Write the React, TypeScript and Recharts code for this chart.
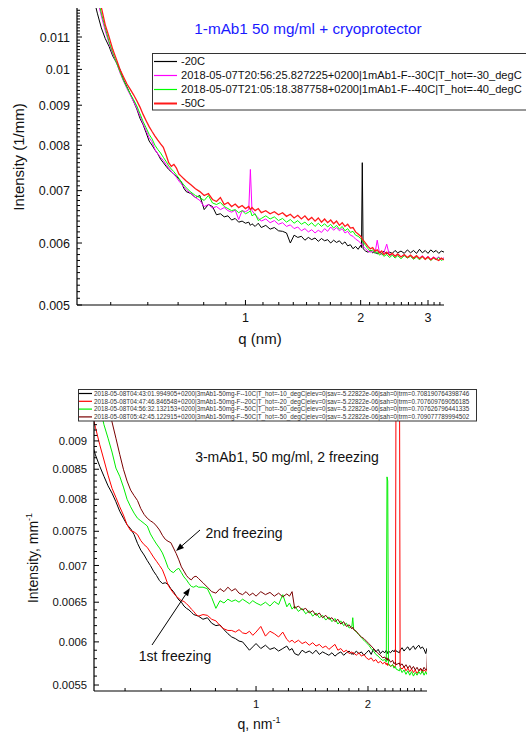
import React from 'react';
import { LineChart, Line, XAxis, YAxis } from 'recharts';

const FONT = '"Liberation Sans", Arial, Helvetica, sans-serif';

// ---------------- TOP CHART DATA ----------------
const qTop = [
  0.38, 0.39, 0.40, 0.41, 0.42, 0.43, 0.44, 0.45, 0.46, 0.47,
  0.48, 0.49, 0.50, 0.51, 0.52, 0.53, 0.54, 0.55, 0.56, 0.57,
  0.58, 0.59, 0.60, 0.61, 0.62, 0.63, 0.64, 0.65, 0.66, 0.67,
  0.68, 0.69, 0.70, 0.72, 0.74, 0.76, 0.78, 0.80, 0.82, 0.84,
  0.86, 0.88, 0.90, 0.92, 0.94, 0.96, 0.98, 1.00, 1.02, 1.03,
  1.04, 1.06, 1.08, 1.10, 1.13, 1.16, 1.19, 1.22, 1.25, 1.28,
  1.31, 1.34, 1.37, 1.40, 1.43, 1.46, 1.49, 1.52, 1.55, 1.58,
  1.61, 1.64, 1.67, 1.70, 1.73, 1.76, 1.79, 1.82, 1.85, 1.88,
  1.91, 1.94, 1.97, 2.00, 2.01, 2.02, 2.03, 2.06, 2.09, 2.12,
  2.15, 2.18, 2.21, 2.24, 2.27, 2.30, 2.34, 2.38, 2.42, 2.46,
  2.50, 2.55, 2.60, 2.65, 2.70, 2.75, 2.80, 2.85, 2.90, 2.95,
  3.00, 3.05, 3.10, 3.15, 3.20, 3.25, 3.31,
];

const blackTop = [
  0.0138, 0.0131, 0.0124, 0.0118, 0.0113, 0.01095, 0.0107, 0.0104, 0.0102, 0.0100,
  0.0097, 0.0095, 0.0093, 0.0091, 0.0089, 0.00866, 0.0085, 0.0083, 0.0081, 0.0080,
  0.00789, 0.00780, 0.00768, 0.00760, 0.00752, 0.00745, 0.00740, 0.00735, 0.00730, 0.00724,
  0.00718, 0.00705, 0.00698, 0.00694, 0.00686, 0.00690, 0.00662, 0.00672, 0.00668, 0.00652,
  0.00654, 0.00648, 0.00650, 0.00642, 0.00645, 0.00638, 0.00640, 0.00636, 0.00638, 0.00632,
  0.00635, 0.00630, 0.00636, 0.00628, 0.00632, 0.00625, 0.00628, 0.00622, 0.00621, 0.00618,
  0.00600, 0.00614, 0.00610, 0.00612, 0.00605, 0.00610, 0.00606, 0.00609, 0.00603, 0.00608,
  0.00604, 0.00606, 0.00600, 0.00605, 0.00601, 0.00604, 0.00598, 0.00602, 0.00595, 0.00597,
  0.00590, 0.00594, 0.00589, 0.00596, 0.00592, 0.00760, 0.00590, 0.00586, 0.00584, 0.00587,
  0.00583, 0.00585, 0.00581, 0.00584, 0.00582, 0.00586, 0.00581, 0.00584, 0.00582, 0.00587,
  0.00583, 0.00586, 0.00582, 0.00588, 0.00583, 0.00587, 0.00582, 0.00589, 0.00583, 0.00587,
  0.00582, 0.00588, 0.00584, 0.00587, 0.00582, 0.00586, 0.00584,
];

const magentaTop = [
  0.0144, 0.0136, 0.0129, 0.0123, 0.0117, 0.0112, 0.0108, 0.01045, 0.0102, 0.00990,
  0.00966, 0.00945, 0.00927, 0.00910, 0.00892, 0.00872, 0.00852, 0.00835, 0.00818, 0.00808,
  0.00790, 0.00780, 0.00772, 0.00765, 0.00756, 0.00748, 0.00741, 0.00735, 0.00728, 0.00720,
  0.00714, 0.00708, 0.00702, 0.00694, 0.00686, 0.00680, 0.00668, 0.00672, 0.00665, 0.00668,
  0.00662, 0.00666, 0.00660, 0.00657, 0.00661, 0.00643, 0.00660, 0.00658, 0.00662, 0.00745,
  0.00660, 0.00652, 0.00646, 0.00640, 0.00644, 0.00637, 0.00641, 0.00634, 0.00637, 0.00630,
  0.00633, 0.00626, 0.00629, 0.00622, 0.00626, 0.00620, 0.00624, 0.00618, 0.00623, 0.00619,
  0.00626, 0.00621, 0.00629, 0.00623, 0.00628, 0.00622, 0.00626, 0.00618, 0.00621, 0.00614,
  0.00612, 0.00607, 0.00604, 0.00600, 0.00598, 0.00596, 0.00594, 0.00590, 0.00586, 0.00584,
  0.00586, 0.00582, 0.00605, 0.00583, 0.00580, 0.00583, 0.00598, 0.00578, 0.00581, 0.00577,
  0.00580, 0.00576, 0.00579, 0.00575, 0.00578, 0.00573, 0.00577, 0.00574, 0.00578, 0.00573,
  0.00577, 0.00572, 0.00576, 0.00573, 0.00576, 0.00572, 0.00575,
];

const greenTop = [
  0.0146, 0.0138, 0.0131, 0.0124, 0.0118, 0.0113, 0.01085, 0.0105, 0.0102, 0.00993,
  0.00968, 0.00948, 0.00930, 0.00915, 0.00898, 0.00878, 0.00858, 0.00842, 0.00826, 0.00815,
  0.00800, 0.00790, 0.00782, 0.00772, 0.00763, 0.00753, 0.00746, 0.00740, 0.00733, 0.00726,
  0.00718, 0.00712, 0.00706, 0.00697, 0.00690, 0.00686, 0.00680, 0.00690, 0.00675, 0.00672,
  0.00676, 0.00668, 0.00664, 0.00660, 0.00662, 0.00656, 0.00660, 0.00654, 0.00657, 0.00660,
  0.00650, 0.00654, 0.00641, 0.00645, 0.00650, 0.00644, 0.00648, 0.00641, 0.00645, 0.00638,
  0.00643, 0.00636, 0.00641, 0.00634, 0.00638, 0.00632, 0.00637, 0.00630, 0.00636, 0.00630,
  0.00635, 0.00629, 0.00634, 0.00627, 0.00632, 0.00625, 0.00630, 0.00622, 0.00626, 0.00619,
  0.00621, 0.00614, 0.00612, 0.00608, 0.00606, 0.00604, 0.00602, 0.00596, 0.00590, 0.00586,
  0.00588, 0.00582, 0.00585, 0.00579, 0.00582, 0.00577, 0.00580, 0.00575, 0.00579, 0.00574,
  0.00578, 0.00573, 0.00578, 0.00574, 0.00577, 0.00572, 0.00576, 0.00571, 0.00576, 0.00572,
  0.00575, 0.00570, 0.00574, 0.00571, 0.00575, 0.00570, 0.00573,
];

const redTop = [
  0.0150, 0.0142, 0.0134, 0.0127, 0.0120, 0.0114, 0.0110, 0.0106, 0.0103, 0.0100,
  0.00978, 0.00958, 0.00943, 0.00928, 0.00912, 0.00895, 0.00876, 0.00860, 0.00845, 0.00833,
  0.00822, 0.00812, 0.00803, 0.00795, 0.00778, 0.00760, 0.00752, 0.00756, 0.00748, 0.00735,
  0.00730, 0.00725, 0.00720, 0.00712, 0.00704, 0.00698, 0.00690, 0.00694, 0.00682, 0.00678,
  0.00686, 0.00672, 0.00676, 0.00668, 0.00673, 0.00666, 0.00670, 0.00664, 0.00668, 0.00662,
  0.00666, 0.00660, 0.00664, 0.00656, 0.00660, 0.00654, 0.00658, 0.00652, 0.00656, 0.00649,
  0.00653, 0.00646, 0.00651, 0.00644, 0.00650, 0.00642, 0.00647, 0.00640, 0.00646, 0.00638,
  0.00644, 0.00637, 0.00642, 0.00635, 0.00640, 0.00632, 0.00637, 0.00630, 0.00634, 0.00627,
  0.00628, 0.00620, 0.00616, 0.00612, 0.00610, 0.00607, 0.00605, 0.00600, 0.00594, 0.00590,
  0.00592, 0.00586, 0.00588, 0.00583, 0.00586, 0.00580, 0.00584, 0.00579, 0.00582, 0.00577,
  0.00581, 0.00576, 0.00580, 0.00575, 0.00579, 0.00574, 0.00578, 0.00573, 0.00577, 0.00572,
  0.00576, 0.00571, 0.00575, 0.00572, 0.00570, 0.00574, 0.00571,
];

const topNames = [
  '-20C',
  '2018-05-07T20:56:25.827225+0200|1mAb1-F--30C|T_hot=-30_degC',
  '2018-05-07T21:05:18.387758+0200|1mAb1-F--40C|T_hot=-40_degC',
  '-50C',
];
const topColors = ['#000000', '#ff00ff', '#00ff00', '#ff1a1a'];
const topSeries = [blackTop, magentaTop, greenTop, redTop];
const topYMajor = [0.005, 0.006, 0.007, 0.008, 0.009, 0.01, 0.011];
const topXMajor = [1, 2, 3];

// ---------------- BOTTOM CHART DATA ----------------
const qBot = [
  0.36, 0.37, 0.38, 0.39, 0.40, 0.41, 0.42, 0.43, 0.44, 0.45,
  0.46, 0.47, 0.48, 0.49, 0.50, 0.51, 0.52, 0.53, 0.54, 0.55,
  0.56, 0.57, 0.58, 0.59, 0.60, 0.61, 0.62, 0.63, 0.64, 0.65,
  0.66, 0.67, 0.68, 0.69, 0.70, 0.72, 0.74, 0.76, 0.78, 0.80,
  0.82, 0.84, 0.86, 0.88, 0.90, 0.92, 0.94, 0.96, 0.98, 1.00,
  1.03, 1.06, 1.09, 1.12, 1.15, 1.18, 1.21, 1.23, 1.25, 1.27,
  1.30, 1.33, 1.36, 1.39, 1.42, 1.45, 1.48, 1.51, 1.54, 1.57,
  1.60, 1.63, 1.66, 1.69, 1.72, 1.75, 1.78, 1.81, 1.82, 1.83,
  1.86, 1.89, 1.92, 1.95, 1.98, 2.01, 2.04, 2.07, 2.10, 2.13,
  2.16, 2.19, 2.22, 2.24, 2.25, 2.26, 2.27, 2.30, 2.33, 2.35,
  2.37, 2.38, 2.43, 2.44, 2.47, 2.50, 2.53, 2.56, 2.59, 2.62,
  2.65, 2.68, 2.71, 2.74, 2.77, 2.80, 2.83, 2.86, 2.88, 2.90,
];

const blackBot = [
  0.0090, 0.00875, 0.00855, 0.00838, 0.00822, 0.00810, 0.00796, 0.00781, 0.00770, 0.00760,
  0.00754, 0.00745, 0.00732, 0.00722, 0.00715, 0.00707, 0.00700, 0.00692, 0.00686, 0.00679,
  0.00675, 0.00676, 0.00674, 0.00668, 0.00664, 0.00658, 0.00653, 0.00650, 0.00645, 0.00642,
  0.00640, 0.00637, 0.00634, 0.00633, 0.00632, 0.00628, 0.00630, 0.00623, 0.00620, 0.00621,
  0.00615, 0.00610, 0.00606, 0.00604, 0.00601, 0.00600, 0.00595, 0.00590, 0.00594, 0.00598,
  0.00592, 0.00596, 0.00591, 0.00593, 0.00589, 0.00592, 0.00595, 0.00590, 0.00592, 0.00586,
  0.00584, 0.00590, 0.00587, 0.00589, 0.00586, 0.00590, 0.00585, 0.00588, 0.00586, 0.00584,
  0.00587, 0.00583, 0.00586, 0.00588, 0.00584, 0.00587, 0.00589, 0.00585, 0.00587, 0.00585,
  0.00589, 0.00586, 0.00588, 0.00584, 0.00587, 0.00590, 0.00585, 0.00592, 0.00588, 0.00591,
  0.00586, 0.00589, 0.00587, 0.00590, 0.00588, 0.00586, 0.00589, 0.00587, 0.00590, 0.00588,
  0.00591, 0.00589, 0.00587, 0.00590, 0.00593, 0.00589, 0.00592, 0.00594, 0.00590, 0.00593,
  0.00595, 0.00591, 0.00594, 0.00596, 0.00592, 0.00594, 0.00591, 0.00586, 0.00592, 0.00590,
];

const redBot = [
  0.00960, 0.00925, 0.00893, 0.00866, 0.00840, 0.00818, 0.00803, 0.00788, 0.00775, 0.00760,
  0.00751, 0.00749, 0.00745, 0.00736, 0.00730, 0.00726, 0.00719, 0.00712, 0.00706, 0.00700,
  0.00694, 0.00684, 0.00673, 0.00667, 0.00662, 0.00658, 0.00655, 0.00652, 0.00651, 0.00648,
  0.00645, 0.00641, 0.00638, 0.00634, 0.00632, 0.00634, 0.00633, 0.00628, 0.00626, 0.00620,
  0.00616, 0.00614, 0.00614, 0.00612, 0.00615, 0.00611, 0.00610, 0.00613, 0.00608, 0.00612,
  0.00619, 0.00607, 0.00613, 0.00610, 0.00606, 0.00612, 0.00603, 0.00600, 0.00602, 0.00599,
  0.00602, 0.00598, 0.00600, 0.00596, 0.00599, 0.00595, 0.00597, 0.00593, 0.00595, 0.00591,
  0.00594, 0.00597, 0.00590, 0.00592, 0.00588, 0.00590, 0.00586, 0.00588, 0.00586, 0.00587,
  0.00584, 0.00587, 0.00583, 0.00585, 0.00581, 0.00579, 0.00581, 0.00577, 0.00579, 0.00575,
  0.00577, 0.00574, 0.00576, 0.00573, 0.00575, 0.00572, 0.00574, 0.00571, 0.00573, 0.00570,
  0.00572, 0.0112, 0.0112, 0.00570, 0.00568, 0.00571, 0.00566, 0.00569, 0.00565, 0.00568,
  0.00564, 0.00567, 0.00563, 0.00566, 0.00568, 0.00564, 0.00567, 0.00565, 0.00568, 0.00566,
];

const greenBot = [
  0.0108, 0.0102, 0.00965, 0.00930, 0.00905, 0.00880, 0.00852, 0.00838, 0.00820, 0.00800,
  0.00788, 0.00778, 0.00770, 0.00766, 0.00762, 0.00758, 0.00746, 0.00738, 0.00731, 0.00725,
  0.00718, 0.00708, 0.00697, 0.00692, 0.00690, 0.00694, 0.00696, 0.00690, 0.00684, 0.00680,
  0.00675, 0.00671, 0.00670, 0.00672, 0.00670, 0.00670, 0.00668, 0.00656, 0.00642, 0.00652,
  0.00649, 0.00654, 0.00651, 0.00653, 0.00650, 0.00654, 0.00651, 0.00648, 0.00652, 0.00649,
  0.00646, 0.00650, 0.00645, 0.00651, 0.00647, 0.00660, 0.00644, 0.00649, 0.00641, 0.00645,
  0.00638, 0.00642, 0.00635, 0.00639, 0.00632, 0.00636, 0.00630, 0.00633, 0.00627, 0.00631,
  0.00625, 0.00629, 0.00622, 0.00626, 0.00620, 0.00623, 0.00617, 0.00619, 0.00630, 0.00616,
  0.00612, 0.00609, 0.00605, 0.00602, 0.00599, 0.00596, 0.00592, 0.00589, 0.00585, 0.00583,
  0.00580, 0.00578, 0.00579, 0.00576, 0.00837, 0.00830, 0.00574, 0.00571, 0.00573, 0.00569,
  0.00571, 0.00568, 0.00566, 0.00569, 0.00564, 0.00567, 0.00562, 0.00566, 0.00561, 0.00565,
  0.00560, 0.00564, 0.00561, 0.00565, 0.00562, 0.00566, 0.00561, 0.00565, 0.00562, 0.00564,
];

const darkRedBot = [
  0.0125, 0.0117, 0.0110, 0.0103, 0.00975, 0.00935, 0.00905, 0.00876, 0.00850, 0.00830,
  0.00815, 0.00806, 0.00798, 0.00785, 0.00776, 0.00770, 0.00766, 0.00763, 0.00758, 0.00752,
  0.00744, 0.00738, 0.00735, 0.00733, 0.00725, 0.00717, 0.00708, 0.00698, 0.00692, 0.00686,
  0.00682, 0.00680, 0.00684, 0.00685, 0.00682, 0.00676, 0.00670, 0.00664, 0.00662, 0.00668,
  0.00664, 0.00670, 0.00665, 0.00668, 0.00662, 0.00660, 0.00664, 0.00659, 0.00662, 0.00658,
  0.00664, 0.00660, 0.00663, 0.00658, 0.00662, 0.00657, 0.00661, 0.00658, 0.00664, 0.00642,
  0.00645, 0.00640, 0.00642, 0.00636, 0.00639, 0.00633, 0.00636, 0.00630, 0.00633, 0.00628,
  0.00630, 0.00625, 0.00628, 0.00622, 0.00625, 0.00619, 0.00621, 0.00616, 0.00618, 0.00615,
  0.00613, 0.00609, 0.00606, 0.00604, 0.00601, 0.00598, 0.00595, 0.00592, 0.00589, 0.00586,
  0.00584, 0.00581, 0.00582, 0.00579, 0.00581, 0.00578, 0.00580, 0.00576, 0.00578, 0.00574,
  0.00576, 0.00573, 0.00575, 0.00572, 0.00574, 0.00570, 0.00573, 0.00569, 0.00572, 0.00568,
  0.00571, 0.00567, 0.00570, 0.00566, 0.00569, 0.00566, 0.00570, 0.00567, 0.00568, 0.00605,
];

const botNames = [
  '2018-05-08T04:43:01.994905+0200|3mAb1-50mg-F--10C|T_hot=-10_degC|elev=0|sav=-5.22822e-06|sah=0|trm=0.708190764398746',
  '2018-05-08T04:47:46.846548+0200|3mAb1-50mg-F--20C|T_hot=-20_degC|elev=0|sav=-5.22822e-06|sah=0|trm=0.707609769056185',
  '2018-05-08T04:56:32.132153+0200|3mAb1-50mg-F--50C|T_hot=-50_degC|elev=0|sav=-5.22822e-06|sah=0|trm=0.707626796441335',
  '2018-05-08T05:42:45.122915+0200|3mAb1-50mg-F--50C|T_hot=-50_degC|elev=0|sav=-5.22822e-06|sah=0|trm=0.709077789994502',
];
const botColors = ['#000000', '#ff0000', '#00ee00', '#7a0000'];
const botSeries = [blackBot, redBot, greenBot, darkRedBot];
const botYMajor = [0.0055, 0.006, 0.0065, 0.007, 0.0075, 0.008, 0.0085, 0.009];
const botXMajor = [1, 2];

// ---------------- helpers ----------------
const TOP_X_DOMAIN: [number, number] = [0.3628, 3.303];
const TOP_Y_DOMAIN: [number, number] = [0.005, 0.01198];
const BOT_X_DOMAIN: [number, number] = [0.3667, 2.882];
const BOT_Y_DOMAIN: [number, number] = [0.005434, 0.009369];

function stepTicks(a: number, b: number, step: number, dec: number) {
  const out: number[] = [];
  const n = Math.round((b - a) / step);
  for (let i = 0; i <= n; i++) out.push(+(a + i * step).toFixed(dec));
  return out;
}
function ninthTicks(domain: [number, number]) {
  const out: number[] = [];
  for (let n = 1; n < 40; n++) {
    const v = n / 9;
    if (v >= domain[0] - 1e-9 && v <= domain[1] + 1e-9) out.push(v);
  }
  return out;
}
const isIn = (list: number[], v: number) => list.some((m) => Math.abs(m - v) < 1e-9);

const topYTicks = stepTicks(0.005, 0.0119, 0.0001, 4);
const botYTicks = stepTicks(0.0055, 0.0093, 0.0001, 4);
const topXTicks = ninthTicks(TOP_X_DOMAIN);
const botXTicks = ninthTicks(BOT_X_DOMAIN);

function makeYTick(majors: number[], fontSize: number) {
  return (props: any) => {
    const { x, y, payload } = props;
    const v = payload.value;
    const major = isIn(majors, v);
    return (
      <g>
        <line x1={x} y1={y} x2={x + (major ? 5 : 3)} y2={y} stroke="#000" strokeWidth={1} />
        {major && (
          <text x={x - 7} y={y} dy="0.36em" textAnchor="end" fontSize={fontSize} fontFamily={FONT} fill="#111">
            {String(v)}
          </text>
        )}
      </g>
    );
  };
}

function makeXTick(majors: number[], fontSize: number) {
  return (props: any) => {
    const { x, y, payload } = props;
    const v = payload.value;
    const major = isIn(majors, Math.round(v)) && Math.abs(v - Math.round(v)) < 1e-6;
    return (
      <g>
        <line x1={x} y1={y} x2={x} y2={y - (major ? 5 : 3)} stroke="#000" strokeWidth={1} />
        {major && (
          <text x={x} y={y + 16.5} textAnchor="middle" fontSize={fontSize} fontFamily={FONT} fill="#111">
            {String(Math.round(v))}
          </text>
        )}
      </g>
    );
  };
}

const toPoints = (qs: number[], vs: number[]) => qs.map((q, i) => ({ q, v: vs[i] }));

function Arrow({ x1, y1, x2, y2 }: { x1: number; y1: number; x2: number; y2: number }) {
  const dx = x2 - x1;
  const dy = y2 - y1;
  const len = Math.sqrt(dx * dx + dy * dy);
  const ux = dx / len;
  const uy = dy / len;
  const hl = 8;
  const hw = 3;
  const bx = x2 - ux * hl;
  const by = y2 - uy * hl;
  const p = `${x2},${y2} ${bx - uy * hw},${by + ux * hw} ${bx + uy * hw},${by - ux * hw}`;
  return (
    <g>
      <line x1={x1} y1={y1} x2={bx} y2={by} stroke="#000" strokeWidth={1} />
      <polygon points={p} fill="#000" />
    </g>
  );
}

export default function App() {
  return (
    <div
      style={{
        position: 'absolute',
        left: 0,
        top: 0,
        width: 526,
        height: 738,
        overflow: 'hidden',
        background: '#fff',
        fontFamily: FONT,
      }}
    >
      {/* TOP CHART */}
      <div style={{ position: 'absolute', left: 0, top: 0 }}>
        <LineChart width={526} height={340} margin={{ top: 8, right: 82, left: 0, bottom: 0 }}>
          <XAxis
            dataKey="q"
            type="number"
            scale="log"
            domain={TOP_X_DOMAIN}
            allowDataOverflow
            ticks={topXTicks}
            interval={0}
            tickSize={0}
            tickMargin={0}
            tickLine={false}
            height={35}
            axisLine={{ stroke: '#000', strokeWidth: 1.2 }}
            tick={makeXTick(topXMajor, 12.5)}
          />
          <XAxis xAxisId="frameTop" orientation="top" type="number" domain={[0, 1]} tick={false} tickLine={false} height={0} axisLine={{ stroke: '#000', strokeWidth: 1.2 }} />
          <YAxis
            type="number"
            scale="log"
            domain={TOP_Y_DOMAIN}
            allowDataOverflow
            ticks={topYTicks}
            interval={0}
            tickSize={0}
            tickMargin={0}
            tickLine={false}
            width={77}
            axisLine={{ stroke: '#000', strokeWidth: 1.2 }}
            tick={makeYTick(topYMajor, 12.5)}
          />
          <YAxis yAxisId="frameRight" orientation="right" type="number" domain={[0, 1]} tick={false} tickLine={false} width={0} axisLine={{ stroke: '#000', strokeWidth: 1.2 }} />
          {topSeries.map((s, i) => (
            <Line
              key={topNames[i]}
              data={toPoints(qTop, s)}
              dataKey="v"
              type="linear"
              stroke={topColors[i]}
              strokeWidth={i === 3 ? 1.3 : 1}
              dot={false}
              isAnimationActive={false}
            />
          ))}
        </LineChart>
      </div>

      {/* BOTTOM CHART */}
      <div style={{ position: 'absolute', left: 0, top: 380 }}>
        <LineChart width={526} height={358} margin={{ top: 41, right: 99, left: 0, bottom: 0 }}>
          <XAxis
            dataKey="q"
            type="number"
            scale="log"
            domain={BOT_X_DOMAIN}
            allowDataOverflow
            ticks={botXTicks}
            interval={0}
            tickSize={0}
            tickMargin={0}
            tickLine={false}
            height={47}
            axisLine={{ stroke: '#000', strokeWidth: 1.2 }}
            tick={makeXTick(botXMajor, 11.3)}
          />
          <XAxis xAxisId="frameTop" orientation="top" type="number" domain={[0, 1]} tick={false} tickLine={false} height={0} axisLine={{ stroke: '#000', strokeWidth: 1.2 }} />
          <YAxis
            type="number"
            scale="log"
            domain={BOT_Y_DOMAIN}
            allowDataOverflow
            ticks={botYTicks}
            interval={0}
            tickSize={0}
            tickMargin={0}
            tickLine={false}
            width={94}
            axisLine={{ stroke: '#000', strokeWidth: 1.2 }}
            tick={makeYTick(botYMajor, 11.3)}
          />
          <YAxis yAxisId="frameRight" orientation="right" type="number" domain={[0, 1]} tick={false} tickLine={false} width={0} axisLine={{ stroke: '#000', strokeWidth: 1.2 }} />
          {botSeries.map((s, i) => (
            <Line
              key={botNames[i]}
              data={toPoints(qBot, s)}
              dataKey="v"
              type="linear"
              stroke={botColors[i]}
              strokeWidth={1}
              dot={false}
              isAnimationActive={false}
            />
          ))}
        </LineChart>
      </div>

      {/* OVERLAY: titles, labels, legends, annotations */}
      <svg
        width={526}
        height={738}
        style={{ position: 'absolute', left: 0, top: 0, pointerEvents: 'none' }}
        fontFamily={FONT}
      >
        {/* top chart texts */}
        <text x={308} y={34} textAnchor="middle" fontSize={15.3} fill="#1a1aff">
          1-mAb1 50 mg/ml + cryoprotector
        </text>
        <text transform="translate(24,157) rotate(-90)" textAnchor="middle" fontSize={15} fill="#111">
          Intensity (1/mm)
        </text>
        <text x={260} y={344} textAnchor="middle" fontSize={15} fill="#111">
          q (nm)
        </text>

        {/* top legend (runs past the right edge, as in the reference) */}
        <rect x={152.5} y={53.5} width={420} height={56.5} fill="#fff" stroke="#333" strokeWidth={1} />
        {topNames.map((n, i) => {
          const cy = 61.5 + i * 14;
          return (
            <g key={n}>
              <line x1={154} x2={177} y1={cy} y2={cy} stroke={topColors[i]} strokeWidth={i === 3 ? 2 : 1.2} />
              <text x={181} y={cy} dy="0.36em" fontSize={11.1} fill="#111">
                {n}
              </text>
            </g>
          );
        })}

        {/* bottom legend */}
        <rect x={78.5} y={389.5} width={398} height={31.5} fill="#fff" stroke="#333" strokeWidth={1} />
        {botNames.map((n, i) => {
          const cy = 393.5 + i * 7.8;
          return (
            <g key={n}>
              <line x1={79} x2={92} y1={cy} y2={cy} stroke={botColors[i]} strokeWidth={1.2} />
              <text x={94} y={cy} dy="0.36em" fontSize={6.3} fill="#333">
                {n}
              </text>
            </g>
          );
        })}

        {/* bottom chart texts */}
        <text x={287} y={462} textAnchor="middle" fontSize={14} fill="#111">
          3-mAb1, 50 mg/ml, 2 freezing
        </text>
        <text x={244} y={538} textAnchor="middle" fontSize={14} fill="#111">
          2nd freezing
        </text>
        <text x={175} y={661} textAnchor="middle" fontSize={14} fill="#111">
          1st freezing
        </text>
        <Arrow x1={200} y1={530} x2={176} y2={551} />
        <Arrow x1={152} y1={645} x2={190} y2={588} />
        <text transform="translate(38,558) rotate(-90)" textAnchor="middle" fontSize={14} fill="#111">
          Intensity, mm
          <tspan fontSize={9} dy={-6}>-1</tspan>
        </text>
        <text x={259} y={729} textAnchor="middle" fontSize={14} fill="#111">
          q, nm
          <tspan fontSize={9} dy={-6}>-1</tspan>
        </text>
      </svg>
    </div>
  );
}
